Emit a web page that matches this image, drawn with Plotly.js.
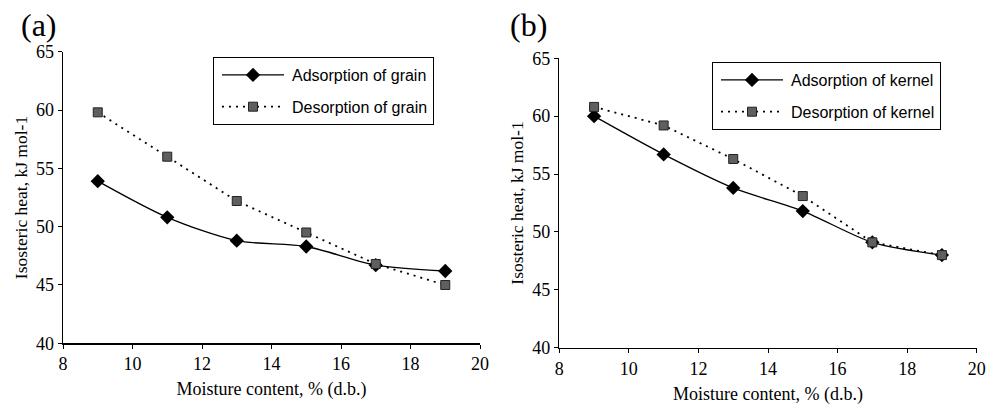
<!DOCTYPE html>
<html>
<head>
<meta charset="utf-8">
<script src="https://cdn.plot.ly/plotly-3.0.1.min.js"></script>
<style>html,body{margin:0;padding:0;background:#fff;}#chart{width:999px;height:408px;}</style>
</head>
<body>
<div id="chart"></div>
<script>
const moisture = [9, 11, 13, 15, 17, 19];
const adsGrain = [53.9, 50.8, 48.8, 48.3, 46.7, 46.2];
const desGrain = [59.8, 56.0, 52.2, 49.5, 46.8, 45.0];
const adsKernel = [60.0, 56.7, 53.8, 51.8, 49.1, 48.0];
const desKernel = [60.8, 59.2, 56.3, 53.1, 49.1, 48.0];
const xTicks = [8, 10, 12, 14, 16, 18, 20];
const yTicks = [40, 45, 50, 55, 60, 65];

const serif = "Liberation Serif, Times New Roman, serif";
const sans = "Liberation Sans, Arial, sans-serif";

function ads(name, y, xa, ya, lg, grp) {
  return {x: moisture, y: y, name: name, xaxis: xa, yaxis: ya, legend: lg, legendgroup: grp,
    mode: 'lines+markers', type: 'scatter',
    line: {color: '#000', width: 1.3, shape: 'spline', smoothing: 0.8},
    marker: {symbol: 'diamond', size: 11, color: '#000'}};
}
function des(name, y, xa, ya, lg, grp) {
  return {x: moisture, y: y, name: name, xaxis: xa, yaxis: ya, legend: lg, legendgroup: grp,
    mode: 'lines+markers', type: 'scatter',
    line: {color: '#000', width: 1.8, dash: '2px,5px'},
    marker: {symbol: 'square', size: 9, color: '#5f5f5f', line: {color: '#222', width: 1}}};
}

const data = [
  ads('Adsorption of grain', adsGrain, 'x', 'y', 'legend', 'a1'),
  des('Desorption of grain', desGrain, 'x', 'y', 'legend', 'a2'),
  ads('Adsorption of kernel', adsKernel, 'x2', 'y2', 'legend2', 'b1'),
  des('Desorption of kernel', desKernel, 'x2', 'y2', 'legend2', 'b2')
];

function xax(dom, anchor) {
  return {domain: dom, anchor: anchor, range: [8, 20], tickvals: xTicks, ticktext: xTicks.map(String),
    showgrid: false, zeroline: false, showline: true, linecolor: '#000', linewidth: 1.5,
    ticks: 'outside', ticklen: 4, tickcolor: '#000', tickwidth: 1,
    tickfont: {family: serif, size: 18, color: '#000'},
    title: {text: 'Moisture content, % (d.b.)', font: {family: serif, size: 18, color: '#000'}, standoff: 9},
    automargin: false};
}
function yax(dom, anchor) {
  return {domain: dom, anchor: anchor, range: [40, 65], tickvals: yTicks, ticktext: yTicks.map(String),
    showgrid: false, zeroline: false, showline: true, linecolor: '#000', linewidth: 1.5,
    ticks: 'outside', ticklen: 4, tickcolor: '#000', tickwidth: 1,
    tickfont: {family: serif, size: 18, color: '#000'},
    title: {text: 'Isosteric heat, kJ mol-1', font: {family: serif, size: 17.5, color: '#000'}, standoff: 4},
    automargin: false};
}

const legendBase = {bgcolor: '#fff', bordercolor: '#000', borderwidth: 1,
  font: {family: sans, size: 16, color: '#000'}, xanchor: 'left', yanchor: 'top',
  traceorder: 'grouped', tracegroupgap: 8, itemwidth: 68};

const layout = {
  width: 999, height: 408,
  margin: {l: 0, r: 0, t: 0, b: 0},
  paper_bgcolor: '#fff', plot_bgcolor: '#fff',
  showlegend: true,
  xaxis: xax([63/999, 480/999], 'y'),
  yaxis: yax([1 - 343.3/408, 1 - 51.7/408], 'x'),
  xaxis2: xax([559.3/999, 976.7/999], 'y2'),
  yaxis2: yax([1 - 347.7/408, 1 - 58.3/408], 'x2'),
  legend: Object.assign({}, legendBase, {x: 213/999, y: 1 - 57/408}),
  legend2: Object.assign({}, legendBase, {x: 712/999, y: 1 - 62/408}),
  annotations: [
    {text: '(a)', xref: 'paper', yref: 'paper', x: 19/999, y: 1 - 25/408, xanchor: 'left', yanchor: 'middle',
     showarrow: false, font: {family: serif, size: 32, color: '#000'}},
    {text: '(b)', xref: 'paper', yref: 'paper', x: 508/999, y: 1 - 25/408, xanchor: 'left', yanchor: 'middle',
     showarrow: false, font: {family: serif, size: 32, color: '#000'}}
  ]
};

function stretchLegendSamples() {
  const gd = document.getElementById('chart');
  gd.querySelectorAll('g.legendlines path').forEach(function (p) { p.setAttribute('d', 'M8,0h62'); });
  gd.querySelectorAll('g.legendpoints path.scatterpts').forEach(function (p) {
    p.setAttribute('transform', 'translate(39,0)');
  });
}

Plotly.newPlot('chart', data, layout, {displayModeBar: false, staticPlot: true}).then(function () {
  stretchLegendSamples();
  setTimeout(stretchLegendSamples, 50);
});
</script>
</body>
</html>
